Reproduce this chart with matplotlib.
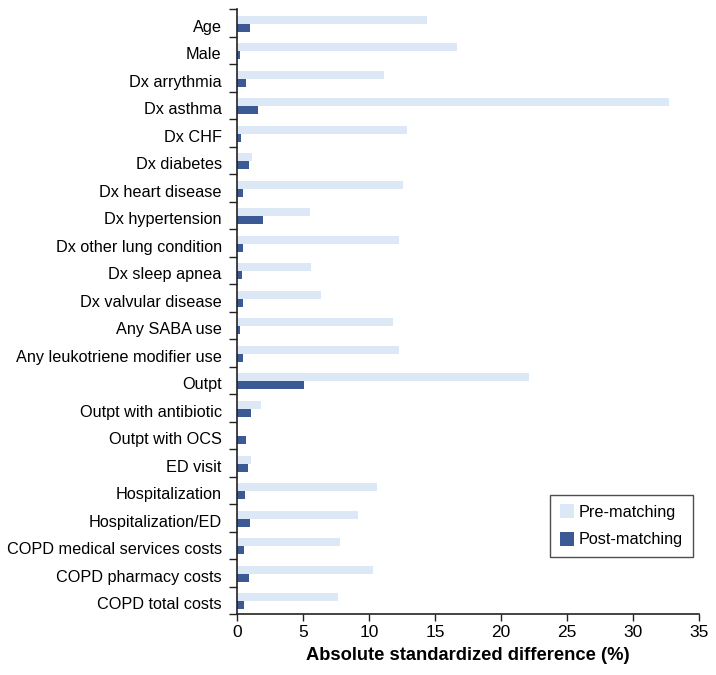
import matplotlib
matplotlib.use("Agg")
import matplotlib.pyplot as plt
from matplotlib.transforms import ScaledTranslation
import numpy as np

categories = ["Age", "Male", "Dx arrythmia", "Dx asthma", "Dx CHF", "Dx diabetes",
              "Dx heart disease", "Dx hypertension", "Dx other lung condition",
              "Dx sleep apnea", "Dx valvular disease", "Any SABA use",
              "Any leukotriene modifier use", "Outpt", "Outpt with antibiotic",
              "Outpt with OCS", "ED visit", "Hospitalization", "Hospitalization/ED",
              "COPD medical services costs", "COPD pharmacy costs", "COPD total costs"]
pre_matching = [14.4, 16.7, 11.1, 32.75, 12.9, 1.1, 12.6, 5.5, 12.3, 5.6, 6.4, 11.8,
                12.3, 22.1, 1.85, 0.1, 1.06, 10.6, 9.15, 7.8, 10.3, 7.65]
post_matching = [1.0, 0.26, 0.7, 1.57, 0.3, 0.9, 0.43, 2.0, 0.48, 0.36, 0.46, 0.26,
                 0.43, 5.1, 1.09, 0.66, 0.81, 0.58, 0.96, 0.51, 0.94, 0.53]
xticks = [0, 5, 10, 15, 20, 25, 30, 35]

plt.rcParams['font.family'] = ['Liberation Sans', 'DejaVu Sans']

fig = plt.figure(figsize=(7.16, 6.75), dpi=100)
ax = fig.add_axes([237/716, 1 - 614/675, (699-237)/716, (614-9)/675])

y = np.arange(len(categories))
h = 0.29
off = 0.04
ax.barh(y - h/2 + off, pre_matching, height=h, color="#dce8f5", label="Pre-matching")
ax.barh(y + h/2 + off, post_matching, height=h, color="#3b5995", label="Post-matching")

ax.set_ylim(len(categories) - 0.5, -0.5)
ax.set_xlim(0, 35)
ax.set_xticks(xticks)
ax.set_xticklabels([str(t) for t in xticks], fontsize=12.5)

ax.set_yticks(y)
ax.set_yticklabels(categories, fontsize=11.7)
ax.tick_params(axis='y', which='major', length=0, pad=11)
ax.set_yticks(np.arange(-0.5, len(categories), 1), minor=True)
ax.tick_params(axis='y', which='minor', length=6, width=1, color="#222222")
ax.tick_params(axis='x', length=5, width=1, color="#222222", pad=3)
shift = ScaledTranslation(0, -2/72, fig.dpi_scale_trans)
for lab in ax.get_yticklabels():
    lab.set_transform(lab.get_transform() + shift)

for s in ["top", "right"]:
    ax.spines[s].set_visible(False)
for s in ["left", "bottom"]:
    ax.spines[s].set_color("#222222")
    ax.spines[s].set_linewidth(1.2)

ax.set_xlabel("Absolute standardized difference (%)", fontsize=13.2, fontweight="bold", labelpad=5)

leg = ax.legend(loc="lower right", bbox_to_anchor=(0.987, 0.094), borderaxespad=0,
                fontsize=11.7, frameon=True, fancybox=False, edgecolor="#222222",
                handlelength=0.9, handleheight=0.9, handletextpad=0.3,
                labelspacing=0.75, borderpad=0.6)
leg.get_frame().set_linewidth(1.0)

fig.savefig("out.png", dpi=100)
